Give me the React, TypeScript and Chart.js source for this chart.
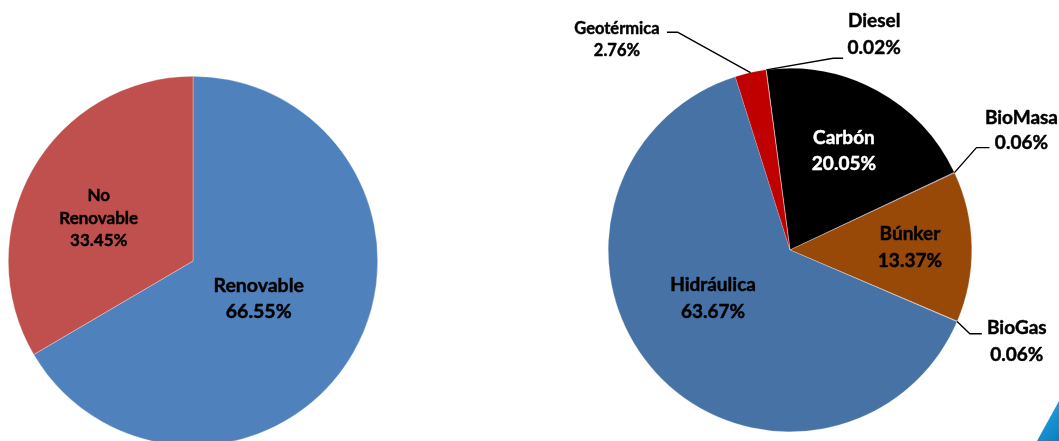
import React, { useEffect, useRef } from "react";
import { Chart, registerables } from "chart.js";

Chart.register(...registerables);

// ---- Data ----
const leftCategories = ["Renovable", "No Renovable"];
const leftValues = [66.55, 33.45];
const leftColors = ["#4F81BD", "#C0504D"];

const rightCategories = ["Carbón", "BioMasa", "Búnker", "BioGas", "Hidráulica", "Geotérmica", "Diesel"];
const rightValues = [20.05, 0.06, 13.37, 0.06, 63.67, 2.76, 0.02];
const rightColors = ["#000000", "#8064A2", "#984807", "#A9B9D3", "#4672A6", "#C00000", "#F79646"];

// ---- Label layout (styles only) ----
const FONT = "Lato, 'Open Sans', sans-serif";

const leftLabelLayout = [
  { mode: "inside", frac: 0.41, shift: 0, size: 19.5, lineH: 26.5, color: "#000", split: false },
  { mode: "inside", frac: 0.56, shift: -5.5, size: 17, lineH: 22.5, color: "#000", split: true },
];

const rightLabelLayout = [
  { mode: "inside", frac: 0.62, shift: 0, size: 19, lineH: 26, color: "#fff", split: false },
  { mode: "outside", elbow: [22, -25], h: 13, text: [32, -17.5], size: 19, lineH: 25, color: "#000" },
  { mode: "inside", frac: 0.66, shift: 0, size: 19, lineH: 27, color: "#000", split: false },
  { mode: "outside", elbow: [12.7, 12.3], h: 12, text: [35, 7.5], size: 19, lineH: 27, color: "#000" },
  { mode: "inside", frac: 0.5, shift: 10, size: 19, lineH: 27, color: "#000", split: false },
  { mode: "outside", elbow: [-72.6, -40.3], h: -11, text: [-50, 7], size: 16.5, lineH: 22, color: "#000" },
  { mode: "outside", elbow: [67, -11.6], h: 10, text: [31, -24], size: 19, lineH: 26.5, color: "#000" },
];

const pieLabelsPlugin = {
  id: "pieLabels",
  afterDatasetsDraw(chart: any, _args: any, opts: any) {
    const layout = opts.layout || [];
    const ctx = chart.ctx;
    const meta = chart.getDatasetMeta(0);
    const labels = chart.data.labels;
    const values = chart.data.datasets[0].data;
    ctx.save();
    meta.data.forEach((arc: any, i: number) => {
      const cfg = layout[i];
      if (!cfg) return;
      const { x, y, startAngle, endAngle, outerRadius } = arc.getProps(
        ["x", "y", "startAngle", "endAngle", "outerRadius"],
        true
      );
      const mid = (startAngle + endAngle) / 2;
      const name: string = labels[i];
      const lines: string[] = cfg.split ? name.split(" ") : [name];
      lines.push(Number(values[i]).toFixed(2) + "%");
      let cx: number, cy: number;
      if (cfg.mode === "inside") {
        const a = mid + (cfg.shift * Math.PI) / 180;
        cx = x + Math.cos(a) * outerRadius * cfg.frac;
        cy = y + Math.sin(a) * outerRadius * cfg.frac;
      } else {
        const ax = x + Math.cos(mid) * outerRadius;
        const ay = y + Math.sin(mid) * outerRadius;
        const ex = ax + cfg.elbow[0];
        const ey = ay + cfg.elbow[1];
        const lx = ex + cfg.h;
        ctx.strokeStyle = "#000";
        ctx.lineWidth = 1.4;
        ctx.beginPath();
        ctx.moveTo(ax, ay);
        ctx.lineTo(ex, ey);
        ctx.lineTo(lx, ey);
        ctx.stroke();
        cx = lx + cfg.text[0];
        cy = ey + cfg.text[1];
      }
      ctx.fillStyle = cfg.color;
      ctx.strokeStyle = cfg.color;
      ctx.lineWidth = 0.45;
      ctx.lineJoin = "round";
      ctx.font = `bold ${cfg.size}px ${FONT}`;
      ctx.textAlign = "center";
      ctx.textBaseline = "middle";
      const n = lines.length;
      lines.forEach((t, k) => {
        const ty = cy + (k - (n - 1) / 2) * cfg.lineH;
        ctx.fillText(t, cx, ty);
        ctx.strokeText(t, cx, ty);
      });
    });
    ctx.restore();
  },
};

function PieCanvas(props: {
  labels: string[];
  values: number[];
  colors: string[];
  rotation: number;
  padding: any;
  width: number;
  height: number;
  layout: any[];
  borderColor: string;
  borderWidth: number;
  style: React.CSSProperties;
}) {
  const ref = useRef<HTMLCanvasElement | null>(null);
  useEffect(() => {
    if (!ref.current) return;
    const chart = new Chart(ref.current, {
      type: "pie",
      data: {
        labels: props.labels,
        datasets: [
          {
            data: props.values,
            backgroundColor: props.colors,
            borderColor: props.borderColor,
            borderWidth: props.borderWidth,
          },
        ],
      },
      options: {
        responsive: false,
        animation: false,
        devicePixelRatio: 1,
        rotation: props.rotation,
        layout: { padding: props.padding },
        plugins: {
          legend: { display: false },
          tooltip: { enabled: false },
          title: { display: false },
          pieLabels: { layout: props.layout },
        } as any,
        events: [],
      },
      plugins: [pieLabelsPlugin],
    });
    return () => chart.destroy();
  }, []);
  return <canvas ref={ref} width={props.width} height={props.height} style={props.style} />;
}

export default function App() {
  return (
    <div
      style={{
        position: "fixed",
        left: 0,
        top: 0,
        width: 1059,
        height: 441,
        overflow: "hidden",
        background: "#ffffff",
      }}
    >
      <PieCanvas
        labels={leftCategories}
        values={leftValues}
        colors={leftColors}
        rotation={0}
        padding={{ left: 8, right: 52, top: 76, bottom: 4 }}
        width={430}
        height={450}
        layout={leftLabelLayout}
        borderColor="rgba(255,255,255,0.5)"
        borderWidth={0.6}
        style={{ position: "absolute", left: 0, top: 0, width: 430, height: 450 }}
      />
      <PieCanvas
        labels={rightCategories}
        values={rightValues}
        colors={rightColors}
        rotation={-7.5}
        padding={{ left: 178, right: 87, top: 68, bottom: 9 }}
        width={629}
        height={441}
        layout={rightLabelLayout}
        borderColor="rgba(255,255,255,0.35)"
        borderWidth={0.5}
        style={{ position: "absolute", left: 430, top: 0, width: 629, height: 441 }}
      />
      <div
        style={{
          position: "absolute",
          left: 1037,
          top: 401,
          width: 22,
          height: 40,
          background: "linear-gradient(135deg, #2AA7E0, #0A7FC4)",
          clipPath: "polygon(100% 0, 100% 100%, 0 100%)",
        }}
      />
    </div>
  );
}
